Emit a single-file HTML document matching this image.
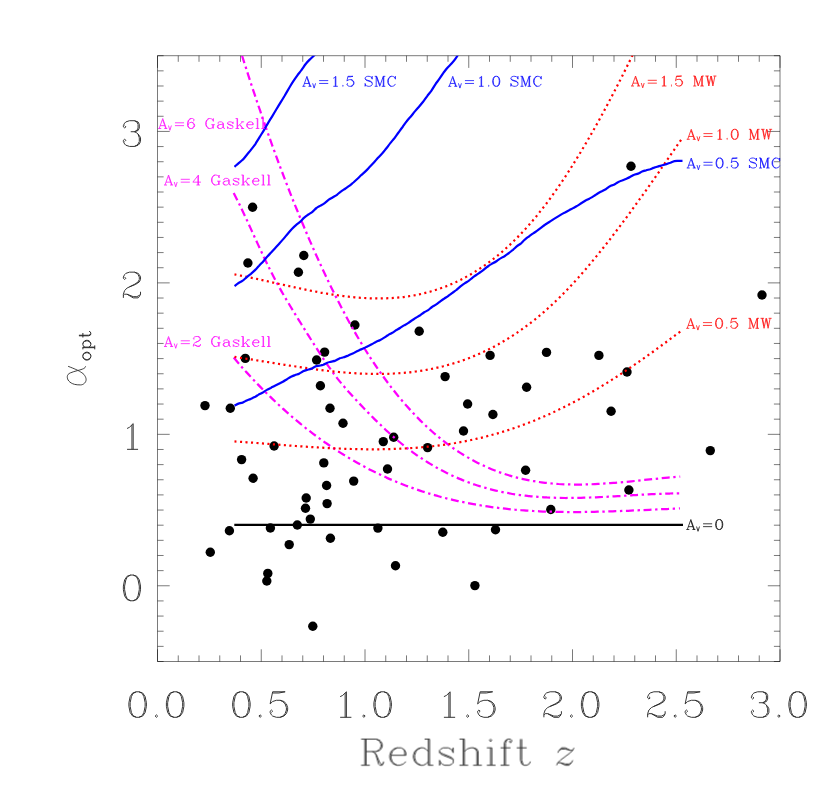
<!DOCTYPE html>
<html><head><meta charset="utf-8"><title>alpha_opt vs Redshift z</title>
<style>html,body{margin:0;padding:0;background:#fff;font-family:"Liberation Sans",sans-serif}svg{display:block}</style>
</head><body>
<svg width="827" height="786" viewBox="0 0 827 786">
<rect width="827" height="786" fill="#fff"/>
<defs><path id="g0" vector-effect="non-scaling-stroke" d="M13 -1L14 -2L15 -4L16 -9L16 -12L15 -17L14 -19L13 -20L11 -21L9 -21L6 -20L4 -17L3 -12L3 -9L4 -4L6 -1L9 0L11 0L13 -1M11 0L14 -1L16 -4L17 -9L17 -12L16 -17L14 -20L11 -21M9 -21L7 -20L6 -19L5 -17L4 -12L4 -9L5 -4L6 -2L7 -1L9 0"/><path id="g1" vector-effect="non-scaling-stroke" d="M6 0L15 0M6 -17L8 -18L11 -21L11 0M10 -20L10 0"/><path id="g2" vector-effect="non-scaling-stroke" d="M3 -2L4 -3L6 -3L11 0L15 0L16 -1L17 -3L17 -5M6 -3L11 -1L14 -1L16 -2L17 -3M3 0L3 -3L4 -6L6 -8L12 -11L15 -13L16 -15L16 -17L15 -19L14 -20L12 -21L8 -21L5 -20L4 -19L3 -17L3 -16L4 -15L5 -16L4 -17M8 -9L13 -11L16 -13L17 -15L17 -17L16 -19L15 -20L12 -21"/><path id="g3" vector-effect="non-scaling-stroke" d="M4 -4L5 -5L4 -6L3 -5L3 -4L4 -2L5 -1L8 0L12 0L14 -1L15 -2L16 -4L16 -7L15 -10M12 0L15 -1L16 -2L17 -4L17 -7L16 -9L14 -11L12 -12L14 -13L15 -15L15 -18L14 -20L12 -21L8 -21L5 -20L4 -19L3 -17L3 -16L4 -15L5 -16L4 -17M9 -12L12 -12L15 -13L16 -15L16 -18L15 -20L12 -21"/><path id="g4" vector-effect="non-scaling-stroke" d="M9 0L16 0M13 0L13 -21L2 -6L18 -6M12 -19L12 0"/><path id="g5" vector-effect="non-scaling-stroke" d="M4 -4L5 -5L4 -6L3 -5L3 -4L4 -2L5 -1L8 0L11 0L13 -1L15 -3L16 -6L16 -8L15 -11L13 -13L11 -14L8 -14L5 -13L3 -11L5 -21L15 -21L10 -20L5 -20M11 0L14 -1L16 -3L17 -6L17 -8L16 -11L14 -13L11 -14"/><path id="g6" vector-effect="non-scaling-stroke" d="M15 -18L14 -17L15 -16L16 -17L16 -18L15 -20L13 -21L10 -21L7 -20L5 -18L4 -16L3 -12L3 -6L4 -3L6 -1L9 0L11 0L13 -1L15 -3L16 -6L16 -7L15 -10L13 -12L11 -13L10 -13L7 -12L5 -10L4 -7M11 0L14 -1L16 -3L17 -6L17 -7L16 -10L14 -12L11 -13M10 -21L8 -20L6 -18L5 -16L4 -12L4 -6L5 -3L7 -1L9 0"/><path id="g7" vector-effect="non-scaling-stroke" d="M13 -18L8 -20L6 -20L4 -19L6 -21L8 -21L13 -18L15 -18L16 -19L17 -21L17 -18L16 -15L12 -10L11 -8L10 -5L10 0M16 -15L11 -10L10 -8L9 -5L9 0M3 -17L4 -19M3 -21L3 -15"/><path id="g8" vector-effect="non-scaling-stroke" d="M12 -21L15 -20L16 -18L16 -15L15 -13L12 -12L14 -13L15 -15L15 -18L14 -20L12 -21L8 -21L5 -20L4 -18L4 -15L5 -13L8 -12L5 -11L4 -10L3 -8L3 -4L4 -2L5 -1L8 0L12 0L14 -1L15 -2L16 -4L16 -8L15 -10L14 -11L12 -12L8 -12L6 -13L5 -15L5 -18L6 -20L8 -21M12 0L15 -1L16 -2L17 -4L17 -8L16 -10L15 -11L12 -12M8 -12L6 -11L5 -10L4 -8L4 -4L5 -2L6 -1L8 0"/><path id="g9" vector-effect="non-scaling-stroke" d="M5 -3L6 -4L5 -5L4 -4L4 -3L5 -1L7 0L10 0L12 -1L14 -3L15 -5L16 -9L16 -15L15 -18L13 -20L11 -21L9 -21L6 -20L4 -18L3 -15L3 -14L4 -11L6 -9L9 -8L7 -9L5 -11L4 -14L4 -15L5 -18L7 -20L9 -21M10 0L13 -1L15 -3L16 -5L17 -9L17 -15L16 -18L14 -20L11 -21M9 -8L10 -8L13 -9L15 -11L16 -14"/><path id="g10" vector-effect="non-scaling-stroke" d="M5 0L6 -1L5 -2L4 -1L5 0"/><path id="g11" vector-effect="non-scaling-stroke" d="M4 -6L22 -6M4 -12L22 -12"/><path id="g12" vector-effect="non-scaling-stroke" d="M4 -9L22 -9"/><path id="g13" vector-effect="non-scaling-stroke" d="M13 0L19 0M1 0L7 0M5 -6L14 -6M10 -18L16 0M3 0L10 -21L17 0"/><path id="g14" vector-effect="non-scaling-stroke" d="M11 -11L13 -10L14 -8L16 -1L17 0L19 0L20 -2L20 -3M2 0L9 0M13 -10L14 -9L17 -2L18 -1L19 -1L20 -2M6 -11L14 -11L16 -12L17 -13L18 -15L18 -17L17 -19L16 -20L14 -21L2 -21M14 -11L17 -12L18 -13L19 -15L19 -17L18 -19L17 -20L14 -21M6 -21L6 0M5 -21L5 0"/><path id="g15" vector-effect="non-scaling-stroke" d="M9 -14L7 -13L5 -11L4 -8L16 -8L16 -10L15 -12L14 -13L12 -14L9 -14L6 -13L4 -11L3 -8L3 -6L4 -3L6 -1L9 0L11 0L14 -1L16 -3M4 -8L4 -6L5 -3L7 -1L9 0M14 -13L15 -11L15 -8"/><path id="g16" vector-effect="non-scaling-stroke" d="M15 -21L15 0L19 0M15 -11L13 -13L11 -14L9 -14L6 -13L4 -11L3 -8L3 -6L4 -3L6 -1L9 0L11 0L13 -1L15 -3M9 -14L7 -13L5 -11L4 -8L4 -6L5 -3L7 -1L9 0M12 -21L16 -21L16 0"/><path id="g17" vector-effect="non-scaling-stroke" d="M4 -2L3 0L3 -4L4 -2L5 -1L7 0L11 0L13 -1L14 -2L14 -5L13 -6L11 -7L6 -9L4 -10L3 -11M13 -12L14 -10L14 -14L13 -12L12 -13L10 -14L6 -14L4 -13L3 -12L3 -10L4 -9L6 -8L11 -6L13 -5L14 -4"/><path id="g18" vector-effect="non-scaling-stroke" d="M13 0L20 0M2 0L9 0M6 -11L8 -13L11 -14L13 -14L16 -13L17 -11L17 0M13 -14L15 -13L16 -11L16 0M2 -21L6 -21L6 0M5 -21L5 0"/><path id="g19" vector-effect="non-scaling-stroke" d="M2 0L9 0M2 -14L6 -14L6 0M5 -14L5 0M5 -19L6 -20L5 -21L4 -20L5 -19"/><path id="g20" vector-effect="non-scaling-stroke" d="M2 0L9 0M2 -14L10 -14M10 -20L9 -19L10 -18L11 -19L11 -20L10 -21L8 -21L7 -20L6 -18L6 0M8 -21L6 -20L5 -18L5 0"/><path id="g21" vector-effect="non-scaling-stroke" d="M5 -21L5 -4L6 -1L8 0L10 0L12 -1L13 -3M6 -21L6 -4L7 -1L8 0M2 -14L10 -14"/><path id="g22" vector-effect="non-scaling-stroke" d="M17 -18L18 -15L18 -21L17 -18L15 -20L12 -21L10 -21L7 -20L5 -18L4 -16L3 -13L3 -8L4 -5L5 -3L7 -1L10 0L12 0L15 -1L17 -3M10 -21L8 -20L6 -18L5 -16L4 -13L4 -8L5 -5L6 -3L8 -1L10 0M17 -8L17 0M14 -8L21 -8M18 -8L18 0"/><path id="g23" vector-effect="non-scaling-stroke" d="M5 -12L5 -11L4 -11L4 -12L5 -13L7 -14L11 -14L13 -13L14 -12L14 -3L15 -1L17 0L18 0M14 -10L13 -9L7 -8L4 -7L3 -5L3 -3L4 -1L7 0L10 0L12 -1L14 -3M14 -12L15 -10L15 -3L16 -1L17 0M7 -8L5 -7L4 -5L4 -3L5 -1L7 0"/><path id="g24" vector-effect="non-scaling-stroke" d="M13 0L19 0M2 0L9 0M11 -8L17 0M10 -8L16 0M6 -4L16 -14M13 -14L19 -14M2 -21L6 -21L6 0M5 -21L5 0"/><path id="g25" vector-effect="non-scaling-stroke" d="M2 0L9 0M2 -21L6 -21L6 0M5 -21L5 0"/><path id="g26" vector-effect="non-scaling-stroke" d="M4 -3L3 0L3 -6L4 -3L6 -1L9 0L12 0L15 -1L17 -3L17 -7L15 -9L13 -10L7 -12L5 -13L4 -14L3 -16L3 -18L5 -20L8 -21L11 -21L14 -20L16 -18L17 -21L17 -15L16 -18M3 -16L5 -14L7 -13L13 -11L15 -10L16 -9L17 -7"/><path id="g27" vector-effect="non-scaling-stroke" d="M16 0L23 0M2 0L8 0M20 -21L20 0M5 0L5 -21L12 0L19 -21L23 -21M19 -21L19 0M2 -21L6 -21L12 -3"/><path id="g28" vector-effect="non-scaling-stroke" d="M17 -18L18 -15L18 -21L17 -18L15 -20L12 -21L10 -21L7 -20L5 -18L4 -16L3 -13L3 -8L4 -5L5 -3L7 -1L10 0L12 0L15 -1L17 -3L18 -5M10 -21L8 -20L6 -18L5 -16L4 -13L4 -8L5 -5L6 -3L8 -1L10 0"/><path id="g29" vector-effect="non-scaling-stroke" d="M4 -21L8 0L12 -21L16 0L20 -21M13 -21L16 -5M5 -21L8 -5M17 -21L23 -21M1 -21L8 -21"/><path id="g30" vector-effect="non-scaling-stroke" d="M3 -14L9 0L15 -14M4 -14L9 -2M11 -14L17 -14M1 -14L7 -14"/><path id="g31" vector-effect="non-scaling-stroke" d="M13 -1L15 -3L16 -6L16 -8L15 -11L13 -13L11 -14L9 -14L6 -13L4 -11L3 -8L3 -6L4 -3L6 -1L9 0L11 0L13 -1M11 0L14 -1L16 -3L17 -6L17 -8L16 -11L14 -13L11 -14M9 -14L7 -13L5 -11L4 -8L4 -6L5 -3L7 -1L9 0"/><path id="g32" vector-effect="non-scaling-stroke" d="M2 7L9 7M6 -3L8 -1L10 0L12 0L14 -1L16 -3L17 -6L17 -8L16 -11L14 -13L12 -14L10 -14L8 -13L6 -11M12 0L15 -1L17 -3L18 -6L18 -8L17 -11L15 -13L12 -14M2 -14L6 -14L6 7M5 -14L5 7"/><path id="g33" vector-effect="non-scaling-stroke" d="M14 -14L3 0L15 0L15 -4L14 0M4 0L15 -14L3 -14L3 -10L4 -14"/><path id="g35" vector-effect="non-scaling-stroke" d="M17 -14L16 -12L14 -10L6 -4L4 -2L6 -2L10 0L13 0L15 -2L16 -4M6 -2L10 -1L13 -1L15 -2M3 0L4 -2M14 -12L10 -13L7 -13L5 -12L7 -14L10 -14L14 -12L16 -12M4 -10L5 -12"/><path id="g36" vector-effect="non-scaling-stroke" d="M1 -14L9 0L17 -14"/></defs>
<path d="M157.50 55.70 H780.00 V661.50 H157.50 ZM157.50 661.50 v-12.20 M157.50 55.70 v12.20M178.25 661.50 v-6.10 M178.25 55.70 v6.10M199.00 661.50 v-6.10 M199.00 55.70 v6.10M219.75 661.50 v-6.10 M219.75 55.70 v6.10M240.50 661.50 v-6.10 M240.50 55.70 v6.10M261.25 661.50 v-12.20 M261.25 55.70 v12.20M282.00 661.50 v-6.10 M282.00 55.70 v6.10M302.75 661.50 v-6.10 M302.75 55.70 v6.10M323.50 661.50 v-6.10 M323.50 55.70 v6.10M344.25 661.50 v-6.10 M344.25 55.70 v6.10M365.00 661.50 v-12.20 M365.00 55.70 v12.20M385.75 661.50 v-6.10 M385.75 55.70 v6.10M406.50 661.50 v-6.10 M406.50 55.70 v6.10M427.25 661.50 v-6.10 M427.25 55.70 v6.10M448.00 661.50 v-6.10 M448.00 55.70 v6.10M468.75 661.50 v-12.20 M468.75 55.70 v12.20M489.50 661.50 v-6.10 M489.50 55.70 v6.10M510.25 661.50 v-6.10 M510.25 55.70 v6.10M531.00 661.50 v-6.10 M531.00 55.70 v6.10M551.75 661.50 v-6.10 M551.75 55.70 v6.10M572.50 661.50 v-12.20 M572.50 55.70 v12.20M593.25 661.50 v-6.10 M593.25 55.70 v6.10M614.00 661.50 v-6.10 M614.00 55.70 v6.10M634.75 661.50 v-6.10 M634.75 55.70 v6.10M655.50 661.50 v-6.10 M655.50 55.70 v6.10M676.25 661.50 v-12.20 M676.25 55.70 v12.20M697.00 661.50 v-6.10 M697.00 55.70 v6.10M717.75 661.50 v-6.10 M717.75 55.70 v6.10M738.50 661.50 v-6.10 M738.50 55.70 v6.10M759.25 661.50 v-6.10 M759.25 55.70 v6.10M780.00 661.50 v-12.20 M780.00 55.70 v12.20M157.50 661.50 h6.10 M780.00 661.50 h-6.10M157.50 646.36 h6.10 M780.00 646.36 h-6.10M157.50 631.21 h6.10 M780.00 631.21 h-6.10M157.50 616.07 h6.10 M780.00 616.07 h-6.10M157.50 600.92 h6.10 M780.00 600.92 h-6.10M157.50 585.77 h12.20 M780.00 585.77 h-12.20M157.50 570.63 h6.10 M780.00 570.63 h-6.10M157.50 555.49 h6.10 M780.00 555.49 h-6.10M157.50 540.34 h6.10 M780.00 540.34 h-6.10M157.50 525.19 h6.10 M780.00 525.19 h-6.10M157.50 510.05 h6.10 M780.00 510.05 h-6.10M157.50 494.90 h6.10 M780.00 494.90 h-6.10M157.50 479.76 h6.10 M780.00 479.76 h-6.10M157.50 464.62 h6.10 M780.00 464.62 h-6.10M157.50 449.47 h6.10 M780.00 449.47 h-6.10M157.50 434.33 h12.20 M780.00 434.33 h-12.20M157.50 419.18 h6.10 M780.00 419.18 h-6.10M157.50 404.04 h6.10 M780.00 404.04 h-6.10M157.50 388.89 h6.10 M780.00 388.89 h-6.10M157.50 373.75 h6.10 M780.00 373.75 h-6.10M157.50 358.60 h6.10 M780.00 358.60 h-6.10M157.50 343.45 h6.10 M780.00 343.45 h-6.10M157.50 328.31 h6.10 M780.00 328.31 h-6.10M157.50 313.17 h6.10 M780.00 313.17 h-6.10M157.50 298.02 h6.10 M780.00 298.02 h-6.10M157.50 282.88 h12.20 M780.00 282.88 h-12.20M157.50 267.73 h6.10 M780.00 267.73 h-6.10M157.50 252.58 h6.10 M780.00 252.58 h-6.10M157.50 237.44 h6.10 M780.00 237.44 h-6.10M157.50 222.30 h6.10 M780.00 222.30 h-6.10M157.50 207.15 h6.10 M780.00 207.15 h-6.10M157.50 192.00 h6.10 M780.00 192.00 h-6.10M157.50 176.86 h6.10 M780.00 176.86 h-6.10M157.50 161.72 h6.10 M780.00 161.72 h-6.10M157.50 146.57 h6.10 M780.00 146.57 h-6.10M157.50 131.43 h12.20 M780.00 131.43 h-12.20M157.50 116.28 h6.10 M780.00 116.28 h-6.10M157.50 101.13 h6.10 M780.00 101.13 h-6.10M157.50 85.99 h6.10 M780.00 85.99 h-6.10M157.50 70.85 h6.10 M780.00 70.85 h-6.10M157.50 55.70 h6.10 M780.00 55.70 h-6.10" stroke="#000" stroke-width="0.85" fill="none" opacity="0.62"/>
<clipPath id="cp"><rect x="157.50" y="55.70" width="622.50" height="605.80"/></clipPath>
<g fill="#000"><circle cx="205.0" cy="405.6" r="4.7"/><circle cx="210.3" cy="552.3" r="4.7"/><circle cx="230.3" cy="408.3" r="4.7"/><circle cx="229.4" cy="530.8" r="4.7"/><circle cx="241.6" cy="459.6" r="4.7"/><circle cx="245.3" cy="358.4" r="4.7"/><circle cx="247.9" cy="263.0" r="4.7"/><circle cx="252.6" cy="207.3" r="4.7"/><circle cx="253.1" cy="478.2" r="4.7"/><circle cx="266.8" cy="581.0" r="4.7"/><circle cx="267.8" cy="573.4" r="4.7"/><circle cx="270.4" cy="528.0" r="4.7"/><circle cx="274.1" cy="446.0" r="4.7"/><circle cx="289.2" cy="544.6" r="4.7"/><circle cx="297.3" cy="525.0" r="4.7"/><circle cx="298.4" cy="272.3" r="4.7"/><circle cx="303.8" cy="255.5" r="4.7"/><circle cx="306.2" cy="498.0" r="4.7"/><circle cx="305.5" cy="508.2" r="4.7"/><circle cx="310.3" cy="519.1" r="4.7"/><circle cx="312.8" cy="626.3" r="4.7"/><circle cx="316.6" cy="360.0" r="4.7"/><circle cx="320.4" cy="385.8" r="4.7"/><circle cx="324.6" cy="352.1" r="4.7"/><circle cx="323.8" cy="462.9" r="4.7"/><circle cx="326.6" cy="485.5" r="4.7"/><circle cx="327.1" cy="503.6" r="4.7"/><circle cx="330.0" cy="408.3" r="4.7"/><circle cx="330.4" cy="538.2" r="4.7"/><circle cx="343.0" cy="423.3" r="4.7"/><circle cx="353.7" cy="481.1" r="4.7"/><circle cx="354.9" cy="325.0" r="4.7"/><circle cx="377.9" cy="528.1" r="4.7"/><circle cx="383.3" cy="441.6" r="4.7"/><circle cx="387.5" cy="469.0" r="4.7"/><circle cx="393.7" cy="437.2" r="4.7"/><circle cx="395.5" cy="565.8" r="4.7"/><circle cx="419.2" cy="331.2" r="4.7"/><circle cx="427.6" cy="447.6" r="4.7"/><circle cx="442.8" cy="532.2" r="4.7"/><circle cx="445.1" cy="376.6" r="4.7"/><circle cx="463.5" cy="431.0" r="4.7"/><circle cx="467.6" cy="404.0" r="4.7"/><circle cx="474.9" cy="585.6" r="4.7"/><circle cx="490.1" cy="355.4" r="4.7"/><circle cx="492.9" cy="414.5" r="4.7"/><circle cx="495.5" cy="529.7" r="4.7"/><circle cx="525.6" cy="470.3" r="4.7"/><circle cx="526.6" cy="387.2" r="4.7"/><circle cx="546.5" cy="352.4" r="4.7"/><circle cx="550.8" cy="509.5" r="4.7"/><circle cx="598.9" cy="355.4" r="4.7"/><circle cx="611.1" cy="411.3" r="4.7"/><circle cx="627.0" cy="372.0" r="4.7"/><circle cx="628.9" cy="490.0" r="4.7"/><circle cx="631.0" cy="166.2" r="4.7"/><circle cx="710.3" cy="450.6" r="4.7"/><circle cx="762.0" cy="295.0" r="4.7"/></g>
<g clip-path="url(#cp)"><path d="M233.7 357.6C234.7 358.8 237.8 362.4 239.8 364.7C241.8 367.0 243.9 369.3 245.9 371.6C248.0 373.8 250.0 376.0 252.0 378.2C254.1 380.4 256.1 382.5 258.1 384.6C260.2 386.8 262.2 388.8 264.3 390.9C266.3 392.9 268.3 394.9 270.4 396.9C272.4 398.9 274.4 400.8 276.5 402.7C278.5 404.7 280.6 406.5 282.6 408.4C284.6 410.2 286.7 412.0 288.7 413.8C290.7 415.6 292.8 417.4 294.8 419.1C296.9 420.8 298.9 422.5 300.9 424.2C303.0 425.8 305.0 427.5 307.0 429.1C309.1 430.7 311.1 432.2 313.2 433.8C315.2 435.3 317.2 436.8 319.3 438.3C321.3 439.8 323.3 441.3 325.4 442.7C327.4 444.1 329.5 445.5 331.5 446.9C333.5 448.3 335.6 449.6 337.6 450.9C339.6 452.2 341.7 453.5 343.7 454.8C345.8 456.0 347.8 457.3 349.8 458.5C351.9 459.7 353.9 460.9 355.9 462.0C358.0 463.2 360.0 464.3 362.1 465.4C364.1 466.5 366.1 467.6 368.2 468.7C370.2 469.7 372.2 470.8 374.3 471.8C376.3 472.8 378.4 473.8 380.4 474.7C382.4 475.7 384.5 476.6 386.5 477.6C388.5 478.5 390.6 479.4 392.6 480.2C394.7 481.1 396.7 481.9 398.7 482.8C400.8 483.6 402.8 484.4 404.8 485.2C406.9 486.0 408.9 486.7 411.0 487.5C413.0 488.2 415.0 488.9 417.1 489.6C419.1 490.3 421.1 491.0 423.2 491.7C425.2 492.3 427.3 493.0 429.3 493.6C431.3 494.2 433.4 494.8 435.4 495.4C437.4 496.0 439.5 496.5 441.5 497.1C443.6 497.6 445.6 498.1 447.6 498.6C449.7 499.1 451.7 499.6 453.7 500.1C455.8 500.6 457.8 501.0 459.9 501.5C461.9 501.9 463.9 502.3 466.0 502.7C468.0 503.1 470.0 503.5 472.1 503.9C474.1 504.3 476.2 504.6 478.2 505.0C480.2 505.3 482.3 505.7 484.3 506.0C486.3 506.3 488.4 506.6 490.4 506.9C492.5 507.2 494.5 507.4 496.5 507.7C498.6 507.9 500.6 508.2 502.6 508.4C504.7 508.7 506.7 508.9 508.8 509.1C510.8 509.3 512.8 509.5 514.9 509.7C516.9 509.8 518.9 510.0 521.0 510.2C523.0 510.3 525.1 510.5 527.1 510.6C529.1 510.7 531.2 510.9 533.2 511.0C535.2 511.1 537.3 511.2 539.3 511.3C541.4 511.4 543.4 511.5 545.4 511.5C547.5 511.6 549.5 511.7 551.5 511.7C553.6 511.8 555.6 511.8 557.7 511.9C559.7 511.9 561.7 511.9 563.8 512.0C565.8 512.0 567.8 512.0 569.9 512.0C571.9 512.0 574.0 512.0 576.0 512.0C578.0 512.0 580.1 512.0 582.1 512.0C584.1 512.0 586.2 511.9 588.2 511.9C590.3 511.9 592.3 511.8 594.3 511.8C596.4 511.8 598.4 511.7 600.4 511.7C602.5 511.6 604.5 511.5 606.6 511.5C608.6 511.4 610.6 511.4 612.7 511.3C614.7 511.2 616.7 511.2 618.8 511.1C620.8 511.0 622.9 510.9 624.9 510.8C626.9 510.8 629.0 510.7 631.0 510.6C633.0 510.5 635.1 510.4 637.1 510.3C639.2 510.3 641.2 510.2 643.2 510.1C645.3 510.0 647.3 509.9 649.3 509.8C651.4 509.7 653.4 509.6 655.5 509.5C657.5 509.4 659.5 509.3 661.6 509.2C663.6 509.2 665.6 509.1 667.7 509.0C669.7 508.9 671.8 508.8 673.8 508.7C675.8 508.6 678.9 508.5 679.9 508.4" stroke="#ff00ff" stroke-width="2.25" fill="none" stroke-dasharray="8.0 3.6 2.4 3.6"/><path d="M233.7 193.0C234.7 195.0 237.8 201.0 239.8 205.1C241.9 209.3 243.9 213.8 246.0 218.2C248.0 222.6 250.1 227.1 252.1 231.6C254.2 236.1 256.2 240.6 258.3 245.1C260.3 249.5 262.4 253.9 264.4 258.2C266.5 262.5 268.5 266.7 270.6 270.8C272.6 274.9 274.7 278.8 276.7 282.6C278.8 286.5 280.8 290.1 282.9 293.7C284.9 297.2 286.9 300.6 289.0 304.0C291.0 307.4 293.1 310.8 295.1 314.1C297.2 317.4 299.2 320.7 301.3 324.0C303.3 327.3 305.4 330.6 307.4 333.9C309.5 337.1 311.5 340.4 313.6 343.6C315.6 346.8 317.7 350.0 319.7 353.2C321.8 356.3 323.8 359.4 325.9 362.5C327.9 365.5 330.0 368.4 332.0 371.2C334.0 374.1 336.1 376.8 338.1 379.4C340.2 382.0 342.2 384.4 344.3 386.8C346.3 389.2 348.4 391.5 350.4 393.8C352.5 396.1 354.5 398.3 356.6 400.5C358.6 402.7 360.7 404.9 362.7 407.0C364.8 409.2 366.8 411.3 368.9 413.4C370.9 415.5 373.0 417.6 375.0 419.6C377.1 421.6 379.1 423.6 381.2 425.5C383.2 427.5 385.2 429.4 387.3 431.3C389.3 433.2 391.4 435.0 393.4 436.8C395.5 438.6 397.5 440.3 399.6 442.0C401.6 443.7 403.7 445.3 405.7 446.9C407.8 448.5 409.8 450.1 411.9 451.6C413.9 453.1 416.0 454.5 418.0 456.0C420.1 457.4 422.1 458.7 424.2 460.1C426.2 461.4 428.3 462.7 430.3 463.9C432.4 465.1 434.4 466.3 436.4 467.5C438.5 468.6 440.5 469.7 442.6 470.8C444.6 471.9 446.7 472.9 448.7 473.9C450.8 474.9 452.8 475.9 454.9 476.8C456.9 477.7 459.0 478.6 461.0 479.4C463.1 480.3 465.1 481.1 467.2 481.9C469.2 482.6 471.3 483.4 473.3 484.1C475.4 484.8 477.4 485.5 479.5 486.1C481.5 486.7 483.5 487.3 485.6 487.9C487.6 488.5 489.7 489.1 491.7 489.6C493.8 490.1 495.8 490.6 497.9 491.0C499.9 491.5 502.0 491.9 504.0 492.4C506.1 492.8 508.1 493.1 510.2 493.5C512.2 493.9 514.3 494.2 516.3 494.5C518.4 494.8 520.4 495.1 522.5 495.3C524.5 495.6 526.6 495.8 528.6 496.1C530.7 496.3 532.7 496.5 534.7 496.6C536.8 496.8 538.8 497.0 540.9 497.1C542.9 497.3 545.0 497.4 547.0 497.5C549.1 497.6 551.1 497.7 553.2 497.7C555.2 497.8 557.3 497.8 559.3 497.9C561.4 497.9 563.4 497.9 565.5 498.0C567.5 498.0 569.6 498.0 571.6 497.9C573.7 497.9 575.7 497.9 577.8 497.9C579.8 497.8 581.9 497.8 583.9 497.7C585.9 497.7 588.0 497.6 590.0 497.5C592.1 497.4 594.1 497.4 596.2 497.3C598.2 497.2 600.3 497.1 602.3 497.0C604.4 496.9 606.4 496.8 608.5 496.7C610.5 496.6 612.6 496.4 614.6 496.3C616.7 496.2 618.7 496.1 620.8 496.0C622.8 495.8 624.9 495.7 626.9 495.6C629.0 495.5 631.0 495.4 633.0 495.2C635.1 495.1 637.1 495.0 639.2 494.9C641.2 494.8 643.3 494.6 645.3 494.5C647.4 494.4 649.4 494.3 651.5 494.2C653.5 494.1 655.6 494.0 657.6 493.9C659.7 493.8 661.7 493.8 663.8 493.7C665.8 493.6 667.9 493.5 669.9 493.5C672.0 493.4 674.0 493.4 676.1 493.3C678.1 493.3 681.2 493.3 682.2 493.3" stroke="#ff00ff" stroke-width="2.25" fill="none" stroke-dasharray="8.0 3.6 2.4 3.6"/><path d="M242.0 55.5C243.0 58.7 246.1 68.3 248.1 74.6C250.1 80.8 252.1 87.0 254.2 93.1C256.2 99.2 258.2 105.3 260.3 111.2C262.3 117.1 264.3 123.0 266.3 128.8C268.4 134.5 270.4 140.2 272.4 145.9C274.5 151.5 276.5 157.0 278.5 162.5C280.5 167.9 282.6 173.3 284.6 178.6C286.6 183.9 288.7 189.2 290.7 194.3C292.7 199.5 294.7 204.5 296.8 209.5C298.8 214.5 300.8 219.4 302.9 224.3C304.9 229.1 306.9 233.9 308.9 238.6C311.0 243.3 313.0 247.9 315.0 252.5C317.1 257.0 319.1 261.5 321.1 265.9C323.1 270.3 325.2 274.7 327.2 278.9C329.2 283.2 331.3 287.4 333.3 291.5C335.3 295.6 337.3 299.6 339.4 303.6C341.4 307.5 343.4 311.4 345.5 315.2C347.5 319.0 349.5 322.7 351.6 326.4C353.6 330.0 355.6 333.6 357.6 337.0C359.7 340.5 361.7 343.9 363.7 347.2C365.8 350.5 367.8 353.7 369.8 356.8C371.8 360.0 373.9 363.1 375.9 366.0C377.9 369.0 380.0 372.0 382.0 374.8C384.0 377.6 386.0 380.4 388.1 383.1C390.1 385.8 392.1 388.4 394.2 391.0C396.2 393.6 398.2 396.1 400.2 398.5C402.3 400.9 404.3 403.3 406.3 405.6C408.4 407.9 410.4 410.1 412.4 412.3C414.4 414.5 416.5 416.6 418.5 418.6C420.5 420.7 422.6 422.7 424.6 424.6C426.6 426.5 428.6 428.4 430.7 430.2C432.7 432.1 434.7 433.8 436.8 435.5C438.8 437.2 440.8 438.9 442.8 440.5C444.9 442.1 446.9 443.6 448.9 445.1C451.0 446.6 453.0 448.0 455.0 449.4C457.0 450.8 459.1 452.1 461.1 453.4C463.1 454.7 465.2 455.9 467.2 457.1C469.2 458.3 471.2 459.4 473.3 460.5C475.3 461.6 477.3 462.7 479.4 463.7C481.4 464.7 483.4 465.6 485.4 466.6C487.5 467.5 489.5 468.4 491.5 469.2C493.6 470.0 495.6 470.8 497.6 471.6C499.6 472.3 501.7 473.0 503.7 473.7C505.7 474.4 507.8 475.0 509.8 475.6C511.8 476.2 513.8 476.8 515.9 477.3C517.9 477.9 519.9 478.4 522.0 478.8C524.0 479.3 526.0 479.7 528.0 480.1C530.1 480.5 532.1 480.9 534.1 481.2C536.2 481.6 538.2 481.9 540.2 482.2C542.2 482.4 544.3 482.7 546.3 482.9C548.3 483.1 550.4 483.3 552.4 483.5C554.4 483.7 556.4 483.8 558.5 484.0C560.5 484.1 562.5 484.2 564.6 484.3C566.6 484.4 568.6 484.4 570.7 484.5C572.7 484.5 574.7 484.5 576.7 484.5C578.8 484.5 580.8 484.5 582.8 484.5C584.9 484.4 586.9 484.4 588.9 484.3C590.9 484.3 593.0 484.2 595.0 484.1C597.0 484.0 599.1 483.9 601.1 483.8C603.1 483.6 605.1 483.5 607.2 483.4C609.2 483.2 611.2 483.1 613.3 482.9C615.3 482.8 617.3 482.6 619.3 482.4C621.4 482.2 623.4 482.0 625.4 481.9C627.5 481.7 629.5 481.5 631.5 481.3C633.5 481.1 635.6 480.9 637.6 480.7C639.6 480.5 641.7 480.2 643.7 480.0C645.7 479.8 647.7 479.6 649.8 479.4C651.8 479.2 653.8 479.0 655.9 478.8C657.9 478.6 659.9 478.4 661.9 478.2C664.0 478.0 666.0 477.8 668.0 477.6C670.1 477.4 672.1 477.2 674.1 477.1C676.1 476.9 679.2 476.7 680.2 476.6" stroke="#ff00ff" stroke-width="2.25" fill="none" stroke-dasharray="8.0 3.6 2.4 3.6"/><path d="M234.5 441.4C235.5 441.5 238.6 441.7 240.6 441.8C242.7 442.0 244.7 442.1 246.8 442.3C248.8 442.4 250.9 442.6 252.9 442.7C255.0 442.9 257.0 443.0 259.1 443.2C261.1 443.4 263.2 443.5 265.2 443.7C267.2 443.8 269.3 444.0 271.3 444.2C273.4 444.3 275.4 444.5 277.5 444.6C279.5 444.8 281.6 444.9 283.6 445.1C285.7 445.2 287.7 445.4 289.8 445.6C291.8 445.7 293.9 445.9 295.9 446.0C297.9 446.1 300.0 446.3 302.0 446.4C304.1 446.6 306.1 446.7 308.2 446.8C310.2 447.0 312.3 447.1 314.3 447.2C316.4 447.4 318.4 447.5 320.5 447.6C322.5 447.7 324.5 447.8 326.6 448.0C328.6 448.1 330.7 448.2 332.7 448.3C334.8 448.4 336.8 448.5 338.9 448.5C340.9 448.6 343.0 448.7 345.0 448.8C347.1 448.9 349.1 448.9 351.2 449.0C353.2 449.0 355.2 449.1 357.3 449.1C359.3 449.2 361.4 449.2 363.4 449.2C365.5 449.3 367.5 449.3 369.6 449.3C371.6 449.3 373.7 449.3 375.7 449.3C377.8 449.3 379.8 449.3 381.9 449.2C383.9 449.2 385.9 449.2 388.0 449.1C390.0 449.1 392.1 449.0 394.1 448.9C396.2 448.9 398.2 448.8 400.3 448.7C402.3 448.6 404.4 448.5 406.4 448.4C408.5 448.3 410.5 448.1 412.6 448.0C414.6 447.9 416.6 447.7 418.7 447.5C420.7 447.4 422.8 447.2 424.8 447.0C426.9 446.8 428.9 446.6 431.0 446.4C433.0 446.1 435.1 445.9 437.1 445.7C439.2 445.4 441.2 445.1 443.3 444.9C445.3 444.6 447.3 444.3 449.4 444.0C451.4 443.6 453.5 443.3 455.5 443.0C457.6 442.6 459.6 442.3 461.7 441.9C463.7 441.5 465.8 441.1 467.8 440.7C469.9 440.3 471.9 439.8 473.9 439.4C476.0 438.9 478.0 438.5 480.1 438.0C482.1 437.5 484.2 437.0 486.2 436.5C488.3 435.9 490.3 435.4 492.4 434.8C494.4 434.3 496.5 433.7 498.5 433.1C500.6 432.5 502.6 431.9 504.6 431.2C506.7 430.6 508.7 429.9 510.8 429.2C512.8 428.6 514.9 427.9 516.9 427.1C519.0 426.4 521.0 425.7 523.1 424.9C525.1 424.2 527.2 423.4 529.2 422.6C531.3 421.8 533.3 421.0 535.3 420.1C537.4 419.3 539.4 418.4 541.5 417.6C543.5 416.7 545.6 415.8 547.6 414.9C549.7 414.0 551.7 413.0 553.8 412.1C555.8 411.1 557.9 410.1 559.9 409.1C562.0 408.1 564.0 407.1 566.0 406.1C568.1 405.1 570.1 404.0 572.2 402.9C574.2 401.9 576.3 400.8 578.3 399.7C580.4 398.6 582.4 397.4 584.5 396.3C586.5 395.1 588.6 394.0 590.6 392.8C592.7 391.6 594.7 390.4 596.7 389.2C598.8 387.9 600.8 386.7 602.9 385.4C604.9 384.2 607.0 382.9 609.0 381.6C611.1 380.3 613.1 379.0 615.2 377.7C617.2 376.4 619.3 375.0 621.3 373.7C623.3 372.3 625.4 371.0 627.4 369.6C629.5 368.2 631.5 366.8 633.6 365.4C635.6 364.0 637.7 362.6 639.7 361.2C641.8 359.7 643.8 358.3 645.9 356.8C647.9 355.4 650.0 353.9 652.0 352.5C654.0 351.0 656.1 349.5 658.1 348.0C660.2 346.5 662.2 345.0 664.3 343.5C666.3 342.0 668.4 340.5 670.4 338.9C672.5 337.4 674.5 335.9 676.6 334.3C678.6 332.8 681.7 330.5 682.7 329.7" stroke="#ff0000" stroke-width="2.2" fill="none" stroke-dasharray="2.1 3.4"/><path d="M234.5 356.9C235.5 357.1 238.6 357.5 240.6 357.8C242.7 358.1 244.7 358.4 246.8 358.8C248.8 359.1 250.9 359.4 252.9 359.7C255.0 360.0 257.0 360.4 259.0 360.7C261.1 361.0 263.1 361.3 265.2 361.7C267.2 362.0 269.3 362.3 271.3 362.7C273.4 363.0 275.4 363.3 277.5 363.7C279.5 364.0 281.6 364.3 283.6 364.6C285.6 365.0 287.7 365.3 289.7 365.6C291.8 365.9 293.8 366.2 295.9 366.5C297.9 366.8 300.0 367.1 302.0 367.4C304.1 367.7 306.1 368.0 308.1 368.3C310.2 368.6 312.2 368.9 314.3 369.2C316.3 369.4 318.4 369.7 320.4 370.0C322.5 370.2 324.5 370.5 326.6 370.7C328.6 370.9 330.6 371.2 332.7 371.4C334.7 371.6 336.8 371.8 338.8 372.0C340.9 372.2 342.9 372.4 345.0 372.5C347.0 372.7 349.1 372.9 351.1 373.0C353.1 373.1 355.2 373.3 357.2 373.4C359.3 373.5 361.3 373.6 363.4 373.7C365.4 373.7 367.5 373.8 369.5 373.8C371.6 373.9 373.6 373.9 375.7 373.9C377.7 373.9 379.7 373.9 381.8 373.9C383.8 373.9 385.9 373.8 387.9 373.8C390.0 373.7 392.0 373.6 394.1 373.5C396.1 373.4 398.2 373.3 400.2 373.1C402.2 373.0 404.3 372.8 406.3 372.6C408.4 372.4 410.4 372.2 412.5 371.9C414.5 371.7 416.6 371.4 418.6 371.1C420.7 370.8 422.7 370.5 424.7 370.2C426.8 369.8 428.8 369.4 430.9 369.0C432.9 368.6 435.0 368.2 437.0 367.7C439.1 367.3 441.1 366.8 443.2 366.3C445.2 365.7 447.2 365.2 449.3 364.6C451.3 364.0 453.4 363.4 455.4 362.8C457.5 362.2 459.5 361.5 461.6 360.8C463.6 360.1 465.7 359.3 467.7 358.6C469.8 357.8 471.8 357.0 473.8 356.1C475.9 355.3 477.9 354.4 480.0 353.5C482.0 352.6 484.1 351.6 486.1 350.6C488.2 349.7 490.2 348.6 492.3 347.6C494.3 346.5 496.3 345.4 498.4 344.3C500.4 343.1 502.5 341.9 504.5 340.7C506.6 339.5 508.6 338.2 510.7 336.9C512.7 335.6 514.8 334.3 516.8 332.9C518.8 331.5 520.9 330.1 522.9 328.6C525.0 327.2 527.0 325.6 529.1 324.1C531.1 322.5 533.2 320.9 535.2 319.3C537.3 317.6 539.3 315.9 541.3 314.2C543.4 312.4 545.4 310.7 547.5 308.8C549.5 307.0 551.6 305.1 553.6 303.2C555.7 301.2 557.7 299.3 559.8 297.2C561.8 295.2 563.9 293.1 565.9 291.0C567.9 288.9 570.0 286.7 572.0 284.5C574.1 282.3 576.1 280.1 578.2 277.8C580.2 275.5 582.3 273.1 584.3 270.8C586.4 268.4 588.4 266.0 590.4 263.6C592.5 261.1 594.5 258.6 596.6 256.1C598.6 253.6 600.7 251.1 602.7 248.5C604.8 245.9 606.8 243.3 608.9 240.7C610.9 238.1 612.9 235.4 615.0 232.7C617.0 230.0 619.1 227.3 621.1 224.6C623.2 221.9 625.2 219.1 627.3 216.3C629.3 213.5 631.4 210.7 633.4 207.9C635.4 205.1 637.5 202.3 639.5 199.4C641.6 196.5 643.6 193.7 645.7 190.8C647.7 187.9 649.8 185.0 651.8 182.1C653.9 179.2 655.9 176.2 658.0 173.3C660.0 170.3 662.0 167.4 664.1 164.4C666.1 161.5 668.2 158.5 670.2 155.6C672.3 152.6 674.3 149.6 676.4 146.6C678.4 143.7 681.5 139.2 682.5 137.7" stroke="#ff0000" stroke-width="2.2" fill="none" stroke-dasharray="2.1 3.4"/><path d="M234.5 274.4C235.5 274.6 238.6 275.2 240.7 275.6C242.7 276.0 244.8 276.4 246.8 276.8C248.9 277.2 250.9 277.7 253.0 278.1C255.0 278.5 257.1 279.0 259.1 279.4C261.2 279.9 263.2 280.3 265.3 280.8C267.3 281.2 269.4 281.7 271.4 282.2C273.5 282.6 275.5 283.1 277.6 283.5C279.7 284.0 281.7 284.5 283.8 284.9C285.8 285.4 287.9 285.8 289.9 286.3C292.0 286.7 294.0 287.2 296.1 287.6C298.1 288.1 300.2 288.5 302.2 288.9C304.3 289.4 306.3 289.8 308.4 290.2C310.4 290.6 312.5 291.0 314.5 291.4C316.6 291.8 318.6 292.2 320.7 292.6C322.7 292.9 324.8 293.3 326.9 293.6C328.9 294.0 331.0 294.3 333.0 294.6C335.1 294.9 337.1 295.2 339.2 295.5C341.2 295.8 343.3 296.1 345.3 296.3C347.4 296.6 349.4 296.8 351.5 297.0C353.5 297.2 355.6 297.4 357.6 297.6C359.7 297.8 361.7 297.9 363.8 298.0C365.8 298.1 367.9 298.2 370.0 298.3C372.0 298.4 374.1 298.4 376.1 298.4C378.2 298.5 380.2 298.5 382.3 298.4C384.3 298.4 386.4 298.3 388.4 298.2C390.5 298.1 392.5 298.0 394.6 297.9C396.6 297.7 398.7 297.5 400.7 297.3C402.8 297.1 404.8 296.8 406.9 296.5C408.9 296.2 411.0 295.9 413.1 295.6C415.1 295.2 417.2 294.8 419.2 294.4C421.3 293.9 423.3 293.4 425.4 292.9C427.4 292.4 429.5 291.9 431.5 291.3C433.6 290.7 435.6 290.0 437.7 289.3C439.7 288.6 441.8 287.9 443.8 287.2C445.9 286.4 447.9 285.6 450.0 284.7C452.0 283.8 454.1 282.9 456.1 282.0C458.2 281.0 460.3 280.0 462.3 278.9C464.4 277.9 466.4 276.8 468.5 275.6C470.5 274.5 472.6 273.3 474.6 272.0C476.7 270.7 478.7 269.4 480.8 268.0C482.8 266.7 484.9 265.2 486.9 263.8C489.0 262.3 491.0 260.7 493.1 259.1C495.1 257.5 497.2 255.9 499.2 254.2C501.3 252.5 503.4 250.7 505.4 248.9C507.5 247.0 509.5 245.1 511.6 243.2C513.6 241.2 515.7 239.2 517.7 237.1C519.8 235.0 521.8 232.8 523.9 230.6C525.9 228.4 528.0 226.1 530.0 223.7C532.1 221.4 534.1 219.0 536.2 216.5C538.2 214.0 540.3 211.4 542.3 208.8C544.4 206.2 546.5 203.4 548.5 200.7C550.6 197.9 552.6 195.1 554.7 192.2C556.7 189.3 558.8 186.3 560.8 183.3C562.9 180.3 564.9 177.2 567.0 174.0C569.0 170.9 571.1 167.6 573.1 164.4C575.2 161.1 577.2 157.8 579.3 154.4C581.3 151.0 583.4 147.6 585.4 144.1C587.5 140.6 589.5 137.0 591.6 133.4C593.7 129.8 595.7 126.2 597.8 122.5C599.8 118.8 601.9 115.0 603.9 111.2C606.0 107.4 608.0 103.5 610.1 99.6C612.1 95.7 614.2 91.8 616.2 87.8C618.3 83.8 620.3 79.8 622.4 75.7C624.4 71.7 626.5 67.5 628.5 63.4C630.6 59.2 633.7 52.9 634.7 50.8" stroke="#ff0000" stroke-width="2.2" fill="none" stroke-dasharray="2.1 3.4"/><path d="M234.5 405.5C235.2 405.2 237.2 404.1 238.5 403.6C239.9 403.2 241.2 403.1 242.6 402.6C243.9 402.1 245.3 401.2 246.6 400.5C248.0 399.9 249.3 399.5 250.6 398.9C252.0 398.3 253.3 397.8 254.7 397.1C256.0 396.4 257.4 395.4 258.7 394.6C260.1 393.9 261.4 393.3 262.8 392.5C264.1 391.7 265.4 390.7 266.8 389.9C268.1 389.1 269.5 388.5 270.8 387.9C272.2 387.2 273.5 386.5 274.9 385.8C276.2 385.2 277.6 384.5 278.9 383.8C280.2 383.1 281.6 382.5 282.9 381.7C284.3 381.0 285.6 380.0 287.0 379.2C288.3 378.4 289.7 377.5 291.0 376.8C292.3 376.2 293.7 375.6 295.0 375.1C296.4 374.5 297.7 374.4 299.1 373.7C300.4 373.1 301.8 372.0 303.1 371.3C304.5 370.7 305.8 370.3 307.1 369.9C308.5 369.5 309.8 369.4 311.2 368.8C312.5 368.3 313.9 367.1 315.2 366.6C316.6 366.0 317.9 366.0 319.3 365.7C320.6 365.4 321.9 365.2 323.3 364.7C324.6 364.2 326.0 363.2 327.3 362.7C328.7 362.2 330.0 362.0 331.4 361.6C332.7 361.3 334.1 361.1 335.4 360.6C336.7 360.0 338.1 359.0 339.4 358.4C340.8 357.9 342.1 357.7 343.5 357.3C344.8 356.8 346.2 356.4 347.5 355.9C348.9 355.3 350.2 354.7 351.5 354.1C352.9 353.5 354.2 352.8 355.6 352.1C356.9 351.4 358.3 350.7 359.6 350.0C361.0 349.4 362.3 349.0 363.7 348.3C365.0 347.7 366.3 346.9 367.7 346.2C369.0 345.5 370.4 345.0 371.7 344.2C373.1 343.5 374.4 342.7 375.8 342.0C377.1 341.3 378.5 340.9 379.8 340.2C381.1 339.5 382.5 338.7 383.8 337.9C385.2 337.1 386.5 336.0 387.9 335.2C389.2 334.4 390.6 333.8 391.9 333.0C393.3 332.2 394.6 331.2 395.9 330.3C397.3 329.5 398.6 328.9 400.0 328.0C401.3 327.2 402.7 326.2 404.0 325.4C405.4 324.6 406.7 324.0 408.0 323.1C409.4 322.3 410.7 321.2 412.1 320.3C413.4 319.4 414.8 318.6 416.1 317.7C417.5 316.9 418.8 316.2 420.2 315.3C421.5 314.4 422.8 313.2 424.2 312.3C425.5 311.5 426.9 311.0 428.2 310.1C429.6 309.1 430.9 307.6 432.3 306.7C433.6 305.7 435.0 305.3 436.3 304.4C437.6 303.5 439.0 302.3 440.3 301.3C441.7 300.3 443.0 299.4 444.4 298.5C445.7 297.6 447.1 296.8 448.4 295.8C449.8 294.9 451.1 293.8 452.4 292.8C453.8 291.8 455.1 290.8 456.5 289.8C457.8 288.7 459.2 287.5 460.5 286.4C461.9 285.3 463.2 284.3 464.6 283.4C465.9 282.5 467.2 281.8 468.6 280.9C469.9 279.9 471.3 278.6 472.6 277.6C474.0 276.6 475.3 275.6 476.7 274.7C478.0 273.8 479.4 272.9 480.7 272.0C482.0 271.0 483.4 270.0 484.7 268.9C486.1 267.9 487.4 266.6 488.8 265.7C490.1 264.7 491.5 264.1 492.8 263.3C494.2 262.6 495.5 261.9 496.8 261.0C498.2 260.1 499.5 258.9 500.9 258.1C502.2 257.2 503.6 256.8 504.9 256.0C506.3 255.1 507.6 254.0 509.0 253.0C510.3 252.0 511.6 250.9 513.0 249.8C514.3 248.7 515.7 247.3 517.0 246.2C518.4 245.1 519.7 244.4 521.1 243.3C522.4 242.1 523.7 240.5 525.1 239.4C526.4 238.2 527.8 237.3 529.1 236.3C530.5 235.3 531.8 234.3 533.2 233.4C534.5 232.4 535.9 231.6 537.2 230.7C538.5 229.7 539.9 228.6 541.2 227.6C542.6 226.5 543.9 225.4 545.3 224.5C546.6 223.6 548.0 222.9 549.3 222.0C550.7 221.2 552.0 220.3 553.3 219.4C554.7 218.6 556.0 217.8 557.4 216.9C558.7 216.1 560.1 215.2 561.4 214.4C562.8 213.6 564.1 213.0 565.5 212.3C566.8 211.5 568.1 210.7 569.5 210.0C570.8 209.2 572.2 208.7 573.5 207.9C574.9 207.2 576.2 206.4 577.6 205.6C578.9 204.8 580.3 203.8 581.6 203.0C582.9 202.2 584.3 201.3 585.6 200.5C587.0 199.8 588.3 199.1 589.7 198.4C591.0 197.7 592.4 196.9 593.7 196.1C595.1 195.3 596.4 194.3 597.7 193.5C599.1 192.7 600.4 192.0 601.8 191.3C603.1 190.6 604.5 190.0 605.8 189.2C607.2 188.3 608.5 186.9 609.9 186.2C611.2 185.4 612.5 185.5 613.9 184.8C615.2 184.2 616.6 183.0 617.9 182.3C619.3 181.5 620.6 181.0 622.0 180.5C623.3 179.9 624.7 179.5 626.0 178.9C627.3 178.3 628.7 177.7 630.0 177.0C631.4 176.3 632.7 175.4 634.1 174.8C635.4 174.2 636.8 174.1 638.1 173.6C639.4 173.1 640.8 172.1 642.1 171.5C643.5 170.9 644.8 170.6 646.2 170.3C647.5 169.9 648.9 169.7 650.2 169.3C651.6 168.8 652.9 168.0 654.2 167.6C655.6 167.1 656.9 166.8 658.3 166.4C659.6 166.0 661.0 165.7 662.3 165.3C663.7 164.9 665.0 164.5 666.4 164.1C667.7 163.7 669.0 163.3 670.4 162.8C671.7 162.3 673.1 161.5 674.4 161.1C675.8 160.8 677.1 160.9 678.5 160.8C679.8 160.8 681.8 160.8 682.5 160.8" stroke="#0000ff" stroke-width="2.2" fill="none" stroke-linejoin="round"/><path d="M234.5 286.0C235.2 285.5 237.2 283.9 238.6 283.0C240.0 282.1 241.3 281.7 242.7 280.7C244.1 279.7 245.4 278.2 246.8 277.1C248.2 275.9 249.5 274.9 250.9 273.8C252.3 272.6 253.6 271.5 255.0 270.1C256.4 268.8 257.7 267.1 259.1 265.7C260.5 264.2 261.8 262.9 263.2 261.4C264.6 259.9 265.9 258.1 267.3 256.6C268.7 255.0 270.0 253.7 271.4 252.2C272.8 250.7 274.1 249.2 275.5 247.7C276.9 246.2 278.2 244.7 279.6 243.2C281.0 241.7 282.3 240.2 283.7 238.6C285.1 237.0 286.4 235.3 287.8 233.7C289.2 232.1 290.5 230.4 291.9 229.0C293.3 227.6 294.6 226.3 296.0 225.1C297.4 223.9 298.7 223.1 300.1 221.8C301.5 220.6 302.8 218.8 304.2 217.6C305.6 216.4 306.9 215.5 308.3 214.5C309.7 213.5 311.0 212.9 312.4 211.8C313.8 210.7 315.1 209.0 316.5 208.0C317.9 206.9 319.2 206.4 320.6 205.6C322.0 204.8 323.3 204.1 324.7 203.1C326.1 202.1 327.4 200.7 328.8 199.7C330.2 198.7 331.5 198.1 332.9 197.2C334.3 196.4 335.6 195.8 337.0 194.8C338.4 193.8 339.7 192.3 341.1 191.3C342.5 190.2 343.8 189.6 345.2 188.7C346.6 187.8 347.9 186.8 349.3 185.8C350.7 184.8 352.0 183.6 353.4 182.5C354.8 181.3 356.1 180.1 357.5 178.8C358.9 177.5 360.2 176.1 361.6 174.8C363.0 173.6 364.3 172.5 365.7 171.1C367.1 169.8 368.4 168.3 369.8 166.8C371.2 165.4 372.5 164.0 373.9 162.5C375.3 161.0 376.6 159.3 378.0 157.8C379.4 156.3 380.7 155.0 382.1 153.5C383.5 151.9 384.8 150.2 386.2 148.5C387.6 146.8 388.9 144.8 390.3 143.1C391.7 141.4 393.0 139.9 394.4 138.2C395.8 136.4 397.1 134.4 398.5 132.5C399.9 130.6 401.2 128.8 402.6 127.0C404.0 125.1 405.3 123.0 406.7 121.3C408.1 119.5 409.4 118.1 410.8 116.5C412.2 114.8 413.5 113.1 414.9 111.4C416.3 109.8 417.6 108.3 419.0 106.7C420.4 105.1 421.7 103.6 423.1 101.8C424.5 100.0 425.8 97.9 427.2 96.1C428.6 94.2 429.9 92.8 431.3 90.8C432.7 88.9 434.0 86.3 435.4 84.3C436.8 82.3 438.1 80.7 439.5 78.7C440.9 76.8 442.2 74.5 443.6 72.6C445.0 70.8 446.3 69.1 447.7 67.5C449.1 66.0 450.4 64.9 451.8 63.3C453.2 61.8 454.5 60.3 455.9 58.2C457.3 56.2 459.3 52.3 460.0 51.1" stroke="#0000ff" stroke-width="2.2" fill="none" stroke-linejoin="round"/><path d="M234.5 166.8C235.2 166.2 237.3 164.3 238.7 163.1C240.1 161.9 241.5 161.1 242.9 159.6C244.3 158.2 245.7 156.2 247.1 154.5C248.5 152.8 249.9 151.2 251.3 149.4C252.7 147.6 254.1 145.8 255.5 143.8C256.8 141.7 258.2 139.3 259.6 137.1C261.0 134.8 262.4 132.7 263.8 130.4C265.2 128.1 266.6 125.5 268.0 123.1C269.4 120.8 270.8 118.6 272.2 116.3C273.6 114.0 275.0 111.7 276.4 109.3C277.8 107.0 279.2 104.7 280.6 102.4C282.0 100.1 283.4 97.8 284.8 95.5C286.2 93.1 287.6 90.6 289.0 88.2C290.4 85.9 291.8 83.5 293.2 81.4C294.6 79.2 296.0 77.2 297.4 75.3C298.8 73.4 300.2 71.9 301.5 70.0C302.9 68.1 304.3 65.8 305.7 64.0C307.1 62.2 308.5 60.8 309.9 59.4C311.3 57.9 312.7 56.9 314.1 55.5C315.5 54.1 316.9 52.1 318.3 50.8C319.7 49.5 321.8 48.3 322.5 47.8" stroke="#0000ff" stroke-width="2.2" fill="none" stroke-linejoin="round"/><path d="M234.3 524.8H683" stroke="#000" stroke-width="2.3" fill="none"/></g>
<g opacity="0.84"><g transform="translate(156.40 717.30) scale(1.2500 1.2150) translate(-25.00 0)" stroke="#000" stroke-width="0.950" fill="none"><use href="#g0" transform="translate(0.00 0.00) scale(1.000 1.000)"/><use href="#g10" transform="translate(20.00 0.00) scale(1.000 1.000)"/><use href="#g0" transform="translate(30.00 0.00) scale(1.000 1.000)"/></g><g transform="translate(260.15 717.30) scale(1.2500 1.2150) translate(-25.00 0)" stroke="#000" stroke-width="0.950" fill="none"><use href="#g0" transform="translate(0.00 0.00) scale(1.000 1.000)"/><use href="#g10" transform="translate(20.00 0.00) scale(1.000 1.000)"/><use href="#g5" transform="translate(30.00 0.00) scale(1.000 1.000)"/></g><g transform="translate(363.90 717.30) scale(1.2500 1.2150) translate(-25.00 0)" stroke="#000" stroke-width="0.950" fill="none"><use href="#g1" transform="translate(0.00 0.00) scale(1.000 1.000)"/><use href="#g10" transform="translate(20.00 0.00) scale(1.000 1.000)"/><use href="#g0" transform="translate(30.00 0.00) scale(1.000 1.000)"/></g><g transform="translate(467.65 717.30) scale(1.2500 1.2150) translate(-25.00 0)" stroke="#000" stroke-width="0.950" fill="none"><use href="#g1" transform="translate(0.00 0.00) scale(1.000 1.000)"/><use href="#g10" transform="translate(20.00 0.00) scale(1.000 1.000)"/><use href="#g5" transform="translate(30.00 0.00) scale(1.000 1.000)"/></g><g transform="translate(571.40 717.30) scale(1.2500 1.2150) translate(-25.00 0)" stroke="#000" stroke-width="0.950" fill="none"><use href="#g2" transform="translate(0.00 0.00) scale(1.000 1.000)"/><use href="#g10" transform="translate(20.00 0.00) scale(1.000 1.000)"/><use href="#g0" transform="translate(30.00 0.00) scale(1.000 1.000)"/></g><g transform="translate(675.15 717.30) scale(1.2500 1.2150) translate(-25.00 0)" stroke="#000" stroke-width="0.950" fill="none"><use href="#g2" transform="translate(0.00 0.00) scale(1.000 1.000)"/><use href="#g10" transform="translate(20.00 0.00) scale(1.000 1.000)"/><use href="#g5" transform="translate(30.00 0.00) scale(1.000 1.000)"/></g><g transform="translate(778.90 717.30) scale(1.2500 1.2150) translate(-25.00 0)" stroke="#000" stroke-width="0.950" fill="none"><use href="#g3" transform="translate(0.00 0.00) scale(1.000 1.000)"/><use href="#g10" transform="translate(20.00 0.00) scale(1.000 1.000)"/><use href="#g0" transform="translate(30.00 0.00) scale(1.000 1.000)"/></g><g transform="translate(144.20 600.77) scale(1.2250 1.2250) translate(-20.00 0)" stroke="#000" stroke-width="0.950" fill="none"><use href="#g0" transform="translate(0.00 0.00) scale(1.000 1.000)"/></g><g transform="translate(144.20 449.33) scale(1.2250 1.2250) translate(-20.00 0)" stroke="#000" stroke-width="0.950" fill="none"><use href="#g1" transform="translate(0.00 0.00) scale(1.000 1.000)"/></g><g transform="translate(144.20 297.88) scale(1.2250 1.2250) translate(-20.00 0)" stroke="#000" stroke-width="0.950" fill="none"><use href="#g2" transform="translate(0.00 0.00) scale(1.000 1.000)"/></g><g transform="translate(144.20 146.43) scale(1.2250 1.2250) translate(-20.00 0)" stroke="#000" stroke-width="0.950" fill="none"><use href="#g3" transform="translate(0.00 0.00) scale(1.000 1.000)"/></g><g transform="translate(358.60 765.20) scale(1.2450 1.2450) translate(0.00 0)" stroke="#000" stroke-width="0.950" fill="none"><use href="#g14" transform="translate(0.00 0.00) scale(1.000 1.000)"/><use href="#g15" transform="translate(22.00 0.00) scale(1.000 1.000)"/><use href="#g16" transform="translate(41.00 0.00) scale(1.000 1.000)"/><use href="#g17" transform="translate(62.00 0.00) scale(1.000 1.000)"/><use href="#g18" transform="translate(79.00 0.00) scale(1.000 1.000)"/><use href="#g19" transform="translate(101.00 0.00) scale(1.000 1.000)"/><use href="#g20" transform="translate(112.00 0.00) scale(1.000 1.000)"/><use href="#g21" transform="translate(125.00 0.00) scale(1.000 1.000)"/><use href="#g35" transform="translate(156.00 0.00) scale(1.000 1.000)"/></g><g transform="translate(86.1 385.1) rotate(-90)" stroke="#000" stroke-width="0.9" fill="none"><path d="M18.8 -18.0C16.5 -12 14.6 -7.6 13.2 -5.6C12 -3.6 11 -2.2 9.7 -1.5C8.4 -0.6 7 0 5.6 0C4.2 0 3 -0.5 2.0 -1.5C0.8 -2.7 0.2 -4 0.2 -5.6C0.2 -8 0.3 -10 0.8 -11.7C1.4 -14 2.6 -16 4.1 -17.3C5.4 -18.4 7 -18.9 8.6 -18.8C10.2 -18.7 11.4 -17.6 12.2 -15.8C13.2 -13.6 13.8 -11 14.5 -8.6C15.2 -6 15.8 -4 16.5 -2.5C17.1 -1.3 17.8 -0.7 18.8 -0.5"/></g><g transform="translate(90.80 361.80) rotate(-90) scale(0.5650 0.5650) translate(0.00 0)" stroke="#000" stroke-width="1.000" fill="none"><use href="#g31" transform="translate(0.00 0.00) scale(1.000 1.000)"/><use href="#g32" transform="translate(20.00 0.00) scale(1.000 1.000)"/><use href="#g21" transform="translate(41.00 0.00) scale(1.000 1.000)"/></g></g>
<g opacity="0.95"><g transform="translate(301.90 86.30) scale(0.5050 0.4750) translate(0.00 0)" stroke="#0000ff" stroke-width="0.800" fill="none"><use href="#g13" transform="translate(0.00 0.00) scale(1.000 1.000)"/><use href="#g36" transform="translate(20.96 3.80) scale(0.360 0.720)"/><use href="#g11" transform="translate(30.16 0.00) scale(1.000 1.000)"/><use href="#g1" transform="translate(56.16 0.00) scale(1.000 1.000)"/><use href="#g10" transform="translate(76.16 0.00) scale(1.000 1.000)"/><use href="#g5" transform="translate(86.16 0.00) scale(1.000 1.000)"/><use href="#g26" transform="translate(122.16 0.00) scale(1.000 1.000)"/><use href="#g27" transform="translate(142.16 0.00) scale(1.000 1.000)"/><use href="#g28" transform="translate(167.16 0.00) scale(1.000 1.000)"/></g></g><g opacity="0.95"><g transform="translate(447.70 86.30) scale(0.5050 0.4750) translate(0.00 0)" stroke="#0000ff" stroke-width="0.800" fill="none"><use href="#g13" transform="translate(0.00 0.00) scale(1.000 1.000)"/><use href="#g36" transform="translate(20.96 3.80) scale(0.360 0.720)"/><use href="#g11" transform="translate(30.16 0.00) scale(1.000 1.000)"/><use href="#g1" transform="translate(56.16 0.00) scale(1.000 1.000)"/><use href="#g10" transform="translate(76.16 0.00) scale(1.000 1.000)"/><use href="#g0" transform="translate(86.16 0.00) scale(1.000 1.000)"/><use href="#g26" transform="translate(122.16 0.00) scale(1.000 1.000)"/><use href="#g27" transform="translate(142.16 0.00) scale(1.000 1.000)"/><use href="#g28" transform="translate(167.16 0.00) scale(1.000 1.000)"/></g></g><g opacity="0.95"><g transform="translate(630.50 86.00) scale(0.5050 0.4750) translate(0.00 0)" stroke="#ff0000" stroke-width="0.800" fill="none"><use href="#g13" transform="translate(0.00 0.00) scale(1.000 1.000)"/><use href="#g36" transform="translate(20.96 3.80) scale(0.360 0.720)"/><use href="#g11" transform="translate(30.16 0.00) scale(1.000 1.000)"/><use href="#g1" transform="translate(56.16 0.00) scale(1.000 1.000)"/><use href="#g10" transform="translate(76.16 0.00) scale(1.000 1.000)"/><use href="#g5" transform="translate(86.16 0.00) scale(1.000 1.000)"/><use href="#g27" transform="translate(122.16 0.00) scale(1.000 1.000)"/><use href="#g29" transform="translate(147.16 0.00) scale(1.000 1.000)"/></g></g><g opacity="0.95"><g transform="translate(686.20 139.30) scale(0.5050 0.4750) translate(0.00 0)" stroke="#ff0000" stroke-width="0.800" fill="none"><use href="#g13" transform="translate(0.00 0.00) scale(1.000 1.000)"/><use href="#g36" transform="translate(20.96 3.80) scale(0.360 0.720)"/><use href="#g11" transform="translate(30.16 0.00) scale(1.000 1.000)"/><use href="#g1" transform="translate(56.16 0.00) scale(1.000 1.000)"/><use href="#g10" transform="translate(76.16 0.00) scale(1.000 1.000)"/><use href="#g0" transform="translate(86.16 0.00) scale(1.000 1.000)"/><use href="#g27" transform="translate(122.16 0.00) scale(1.000 1.000)"/><use href="#g29" transform="translate(147.16 0.00) scale(1.000 1.000)"/></g></g><g opacity="0.95"><g transform="translate(686.20 168.00) scale(0.5050 0.4750) translate(0.00 0)" stroke="#0000ff" stroke-width="0.800" fill="none"><use href="#g13" transform="translate(0.00 0.00) scale(1.000 1.000)"/><use href="#g36" transform="translate(20.96 3.80) scale(0.360 0.720)"/><use href="#g11" transform="translate(30.16 0.00) scale(1.000 1.000)"/><use href="#g0" transform="translate(56.16 0.00) scale(1.000 1.000)"/><use href="#g10" transform="translate(76.16 0.00) scale(1.000 1.000)"/><use href="#g5" transform="translate(86.16 0.00) scale(1.000 1.000)"/><use href="#g26" transform="translate(122.16 0.00) scale(1.000 1.000)"/><use href="#g27" transform="translate(142.16 0.00) scale(1.000 1.000)"/><use href="#g28" transform="translate(167.16 0.00) scale(1.000 1.000)"/></g></g><g opacity="0.95"><g transform="translate(685.70 328.30) scale(0.5050 0.4750) translate(0.00 0)" stroke="#ff0000" stroke-width="0.800" fill="none"><use href="#g13" transform="translate(0.00 0.00) scale(1.000 1.000)"/><use href="#g36" transform="translate(20.96 3.80) scale(0.360 0.720)"/><use href="#g11" transform="translate(30.16 0.00) scale(1.000 1.000)"/><use href="#g0" transform="translate(56.16 0.00) scale(1.000 1.000)"/><use href="#g10" transform="translate(76.16 0.00) scale(1.000 1.000)"/><use href="#g5" transform="translate(86.16 0.00) scale(1.000 1.000)"/><use href="#g27" transform="translate(122.16 0.00) scale(1.000 1.000)"/><use href="#g29" transform="translate(147.16 0.00) scale(1.000 1.000)"/></g></g><g opacity="0.95"><g transform="translate(685.80 529.50) scale(0.5050 0.4750) translate(0.00 0)" stroke="#000" stroke-width="0.800" fill="none"><use href="#g13" transform="translate(0.00 0.00) scale(1.000 1.000)"/><use href="#g36" transform="translate(20.96 3.80) scale(0.360 0.720)"/><use href="#g11" transform="translate(30.16 0.00) scale(1.000 1.000)"/><use href="#g0" transform="translate(56.16 0.00) scale(1.000 1.000)"/></g></g><g opacity="0.95"><g transform="translate(157.70 128.50) scale(0.5050 0.4750) translate(0.00 0)" stroke="#ff00ff" stroke-width="0.800" fill="none"><use href="#g13" transform="translate(0.00 0.00) scale(1.000 1.000)"/><use href="#g36" transform="translate(20.96 3.80) scale(0.360 0.720)"/><use href="#g11" transform="translate(30.16 0.00) scale(1.000 1.000)"/><use href="#g6" transform="translate(56.16 0.00) scale(1.000 1.000)"/><use href="#g22" transform="translate(92.16 0.00) scale(1.000 1.000)"/><use href="#g23" transform="translate(115.16 0.00) scale(1.000 1.000)"/><use href="#g17" transform="translate(135.16 0.00) scale(1.000 1.000)"/><use href="#g24" transform="translate(152.16 0.00) scale(1.000 1.000)"/><use href="#g15" transform="translate(173.16 0.00) scale(1.000 1.000)"/><use href="#g25" transform="translate(192.16 0.00) scale(1.000 1.000)"/><use href="#g25" transform="translate(203.16 0.00) scale(1.000 1.000)"/></g></g><g opacity="0.95"><g transform="translate(163.50 185.00) scale(0.5050 0.4750) translate(0.00 0)" stroke="#ff00ff" stroke-width="0.800" fill="none"><use href="#g13" transform="translate(0.00 0.00) scale(1.000 1.000)"/><use href="#g36" transform="translate(20.96 3.80) scale(0.360 0.720)"/><use href="#g11" transform="translate(30.16 0.00) scale(1.000 1.000)"/><use href="#g4" transform="translate(56.16 0.00) scale(1.000 1.000)"/><use href="#g22" transform="translate(92.16 0.00) scale(1.000 1.000)"/><use href="#g23" transform="translate(115.16 0.00) scale(1.000 1.000)"/><use href="#g17" transform="translate(135.16 0.00) scale(1.000 1.000)"/><use href="#g24" transform="translate(152.16 0.00) scale(1.000 1.000)"/><use href="#g15" transform="translate(173.16 0.00) scale(1.000 1.000)"/><use href="#g25" transform="translate(192.16 0.00) scale(1.000 1.000)"/><use href="#g25" transform="translate(203.16 0.00) scale(1.000 1.000)"/></g></g><g opacity="0.95"><g transform="translate(163.50 346.50) scale(0.5050 0.4750) translate(0.00 0)" stroke="#ff00ff" stroke-width="0.800" fill="none"><use href="#g13" transform="translate(0.00 0.00) scale(1.000 1.000)"/><use href="#g36" transform="translate(20.96 3.80) scale(0.360 0.720)"/><use href="#g11" transform="translate(30.16 0.00) scale(1.000 1.000)"/><use href="#g2" transform="translate(56.16 0.00) scale(1.000 1.000)"/><use href="#g22" transform="translate(92.16 0.00) scale(1.000 1.000)"/><use href="#g23" transform="translate(115.16 0.00) scale(1.000 1.000)"/><use href="#g17" transform="translate(135.16 0.00) scale(1.000 1.000)"/><use href="#g24" transform="translate(152.16 0.00) scale(1.000 1.000)"/><use href="#g15" transform="translate(173.16 0.00) scale(1.000 1.000)"/><use href="#g25" transform="translate(192.16 0.00) scale(1.000 1.000)"/><use href="#g25" transform="translate(203.16 0.00) scale(1.000 1.000)"/></g></g>
</svg>
</body></html>
